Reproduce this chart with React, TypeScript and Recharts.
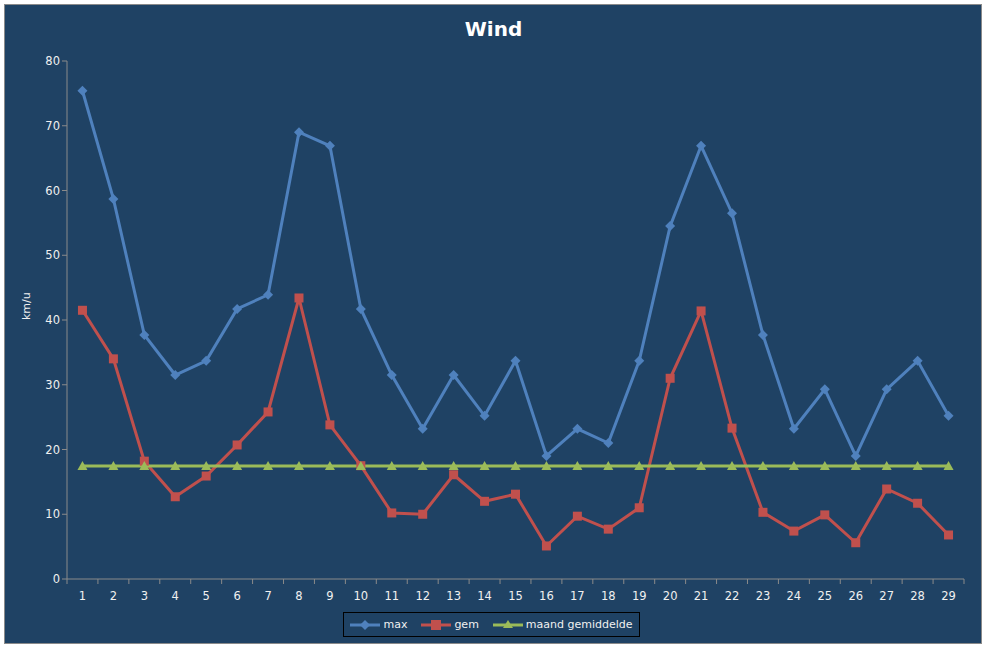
import React from "react";
import { CartesianGrid, Line, LineChart, XAxis, YAxis } from "recharts";

const days = [
  "1", "2", "3", "4", "5", "6", "7", "8", "9", "10", "11", "12", "13", "14", "15",
  "16", "17", "18", "19", "20", "21", "22", "23", "24", "25", "26", "27", "28", "29",
];
const maxWind = [
  75.4, 58.7, 37.7, 31.5, 33.7, 41.7, 43.9, 69.0, 66.9, 41.7, 31.5, 23.2, 31.5, 25.2, 33.7,
  19.0, 23.2, 21.0, 33.7, 54.5, 66.9, 56.5, 37.7, 23.2, 29.3, 19.0, 29.3, 33.7, 25.2,
];
const gemWind = [
  41.5, 34.0, 18.2, 12.7, 15.9, 20.7, 25.8, 43.4, 23.8, 17.5, 10.2, 10.0, 16.1, 12.0, 13.1,
  5.1, 9.7, 7.7, 11.0, 31.0, 41.4, 23.3, 10.3, 7.4, 9.9, 5.6, 13.9, 11.7, 6.8,
];
const maandGem = [
  17.45, 17.45, 17.45, 17.45, 17.45, 17.45, 17.45, 17.45, 17.45, 17.45, 17.45, 17.45, 17.45,
  17.45, 17.45, 17.45, 17.45, 17.45, 17.45, 17.45, 17.45, 17.45, 17.45, 17.45, 17.45, 17.45,
  17.45, 17.45, 17.45,
];
const yTicks = [0, 10, 20, 30, 40, 50, 60, 70, 80];

const data = days.map((d, i) => ({
  day: d,
  max: maxWind[i],
  gem: gemWind[i],
  maand: maandGem[i],
}));

const BG = "#1F4264";
const AXIS = "#8A8A8A";
const TEXT = "#F0F0F0";
const FONT = "Tahoma, 'DejaVu Sans', sans-serif";

const W = 987;
const H = 648;
const margin = { top: 61, right: 23, left: 27, bottom: 44 };
const step = (W - 67 - margin.right) / days.length;

const Diamond = (props: any) => {
  const { cx, cy } = props;
  if (cx == null || cy == null) return null;
  return <path d={`M${cx},${cy - 5}L${cx + 5},${cy}L${cx},${cy + 5}L${cx - 5},${cy}Z`} fill="#4F81BD" />;
};
const Square = (props: any) => {
  const { cx, cy } = props;
  if (cx == null || cy == null) return null;
  return <rect x={cx - 4.5} y={cy - 4.5} width={9} height={9} fill="#C0504D" />;
};
const Triangle = (props: any) => {
  const { cx, cy } = props;
  if (cx == null || cy == null) return null;
  return <path d={`M${cx},${cy - 5}L${cx + 5},${cy + 4}L${cx - 5},${cy + 4}Z`} fill="#9BBB59" />;
};

const XTick = (props: any) => {
  const { x, y, payload, index } = props;
  const top = y - 8;
  return (
    <g>
      <line x1={x - step / 2} x2={x - step / 2} y1={top} y2={top + 5} stroke={AXIS} />
      {index === days.length - 1 && (
        <line x1={x + step / 2} x2={x + step / 2} y1={top} y2={top + 5} stroke={AXIS} />
      )}
      <text x={x} y={y + 13} textAnchor="middle" fill={TEXT} fontSize={11.5} fontFamily={FONT}>
        {payload.value}
      </text>
    </g>
  );
};

const legendItems = [
  { label: "max", color: "#4F81BD", shape: "diamond" },
  { label: "gem", color: "#C0504D", shape: "square" },
  { label: "maand gemiddelde", color: "#9BBB59", shape: "triangle" },
];

const LegendIcon = ({ color, shape }: { color: string; shape: string }) => (
  <svg width={30} height={12} style={{ marginRight: 3 }}>
    <line x1={0} x2={30} y1={6} y2={6} stroke={color} strokeWidth={3} />
    {shape === "diamond" && <path d="M15,1L20,6L15,11L10,6Z" fill={color} />}
    {shape === "square" && <rect x={10} y={1} width={10} height={10} fill={color} />}
    {shape === "triangle" && <path d="M15,1L20,9L10,9Z" fill={color} />}
  </svg>
);

export default function App() {
  return (
    <div style={{ position: "absolute", left: 0, top: 0, width: W, height: H, background: "#fff" }}>
      <div
        style={{
          position: "absolute",
          left: 4,
          top: 4,
          width: W - 9,
          height: H - 8,
          background: BG,
          border: `1px solid ${AXIS}`,
          boxSizing: "border-box",
        }}
      />
      <div
        style={{
          position: "absolute",
          left: 0,
          width: W,
          top: 17,
          textAlign: "center",
          color: "#fff",
          fontFamily: FONT,
          fontWeight: "bold",
          fontSize: 20,
        }}
      >
        Wind
      </div>
      <div style={{ position: "absolute", left: 0, top: 0 }}>
        <LineChart width={W} height={H} data={data} margin={margin}>
          <CartesianGrid stroke="none" />
          <XAxis
            dataKey="day"
            stroke={AXIS}
            tickLine={false}
            tick={<XTick />}
            interval={0}
            height={25}
            padding={{ left: step / 2, right: step / 2 }}
          />
          <YAxis
            domain={[0, 80]}
            ticks={yTicks}
            width={40}
            stroke={AXIS}
            tickSize={5}
            tick={{ fill: TEXT, fontSize: 11.5, fontFamily: FONT }}
            label={{
              value: "km/u",
              angle: -90,
              position: "insideLeft",
              offset: -1,
              fill: TEXT,
              fontSize: 11,
              fontFamily: FONT,
            }}
          />
          <Line
            dataKey="max"
            stroke="#4F81BD"
            strokeWidth={3}
            dot={<Diamond />}
            activeDot={false}
            isAnimationActive={false}
          />
          <Line
            dataKey="gem"
            stroke="#C0504D"
            strokeWidth={3}
            dot={<Square />}
            activeDot={false}
            isAnimationActive={false}
          />
          <Line
            dataKey="maand"
            stroke="#9BBB59"
            strokeWidth={3}
            dot={<Triangle />}
            activeDot={false}
            isAnimationActive={false}
          />
        </LineChart>
      </div>
      <div
        style={{
          position: "absolute",
          left: 343,
          top: 612,
          width: 297,
          height: 25,
          border: "1px solid #000",
          boxSizing: "border-box",
          display: "flex",
          alignItems: "center",
          justifyContent: "center",
          gap: 14,
          fontFamily: FONT,
          fontSize: 11,
          color: TEXT,
        }}
      >
        {legendItems.map((it) => (
          <span key={it.label} style={{ display: "flex", alignItems: "center" }}>
            <LegendIcon color={it.color} shape={it.shape} />
            {it.label}
          </span>
        ))}
      </div>
    </div>
  );
}
